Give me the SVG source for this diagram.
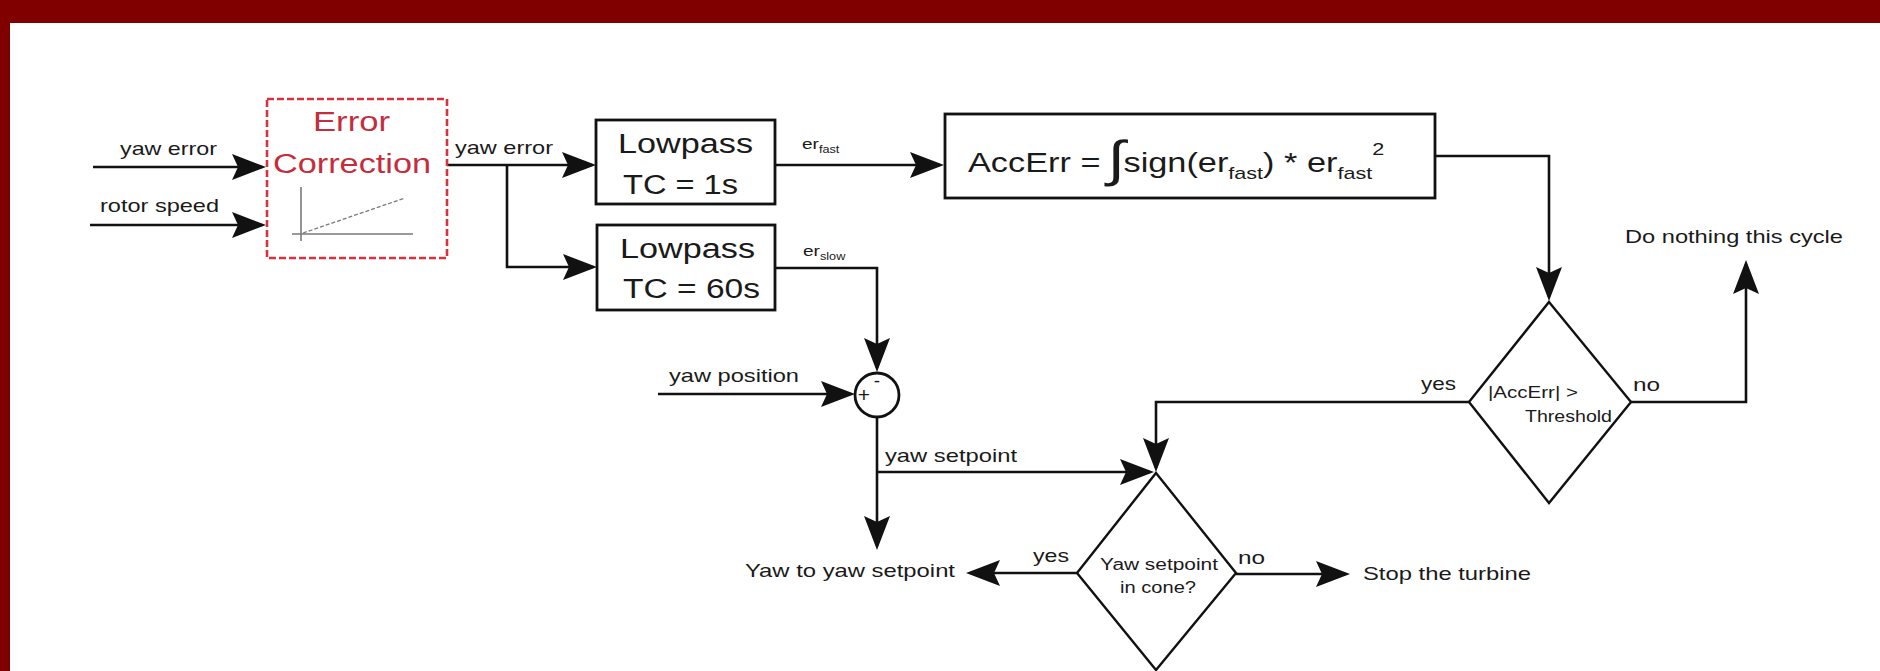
<svg xmlns="http://www.w3.org/2000/svg" width="1880" height="671" viewBox="0 0 1880 671">
<style>
text{font-family:"Liberation Sans",Arial,sans-serif;fill:#1a1a1a}
.lbl{font-size:18.5px}
.big{font-size:27px}
.dt{font-size:16px}
.red{fill:#c42e3c}
.box{fill:#fff;stroke:#111;stroke-width:2.8}
.dia{fill:#fff;stroke:#111;stroke-width:2.4}
.wire{fill:none;stroke:#111;stroke-width:2.6}
.arr{marker-end:url(#ah)}
.axis{stroke:#7a7a7a;stroke-width:1.6;fill:none}
</style>
<defs>
<marker id="ah" markerUnits="userSpaceOnUse" markerWidth="36" markerHeight="26" refX="30" refY="13" orient="auto">
<path d="M0,0 L34,13 L0,26 L6,13 Z" fill="#111"/>
</marker>
</defs>
<rect x="0" y="0" width="1880" height="671" fill="#fff"/>
<rect x="0" y="0" width="1880" height="23" fill="#800000"/>
<rect x="0" y="0" width="10" height="671" fill="#800000"/>

<g id="connectors">
<path class="wire arr" d="M93 167 H262"/>
<path class="wire arr" d="M90 225 H262"/>
<path class="wire arr" d="M447 165 H592"/>
<path class="wire arr" d="M507 165 V267 H593"/>
<path class="wire arr" d="M775 165 H940"/>
<path class="wire arr" d="M775 268 H877 V368"/>
<path class="wire arr" d="M1435 156 H1549 V297"/>
<path class="wire arr" d="M1469 402 H1156 V468"/>
<path class="wire arr" d="M1631 402 H1746 V264"/>
<path class="wire arr" d="M658 394 H851"/>
<path class="wire arr" d="M877 417 V546"/>
<path class="wire arr" d="M877 472 H1150"/>
<path class="wire arr" d="M1077 573 H970"/>
<path class="wire arr" d="M1236 574 H1346"/>
<text class="lbl" x="120" y="155" textLength="97" lengthAdjust="spacingAndGlyphs">yaw error</text>
<text class="lbl" x="100" y="212" textLength="119" lengthAdjust="spacingAndGlyphs">rotor speed</text>
<text class="lbl" x="455" y="154" textLength="98" lengthAdjust="spacingAndGlyphs">yaw error</text>
<text transform="translate(802,149) scale(1.27,1)" font-size="15">er<tspan font-size="10" dy="4">fast</tspan></text>
<text transform="translate(803,256) scale(1.27,1)" font-size="15">er<tspan font-size="10" dy="4">slow</tspan></text>
<text class="lbl" x="669" y="382" textLength="130" lengthAdjust="spacingAndGlyphs">yaw position</text>
<text class="lbl" x="885" y="462" textLength="132" lengthAdjust="spacingAndGlyphs">yaw setpoint</text>
<text class="lbl" x="1421" y="390" textLength="35" lengthAdjust="spacingAndGlyphs">yes</text>
<text class="lbl" x="1633" y="391" textLength="27" lengthAdjust="spacingAndGlyphs">no</text>
<text class="lbl" x="1033" y="562" textLength="36" lengthAdjust="spacingAndGlyphs">yes</text>
<text class="lbl" x="1238" y="564" textLength="27" lengthAdjust="spacingAndGlyphs">no</text>
</g>

<g id="error-correction">
<rect x="267" y="99" width="180" height="159" fill="#fff" stroke="#d9323f" stroke-width="2.6" stroke-dasharray="7 3"/>
<text class="big red" x="313" y="131" textLength="77" lengthAdjust="spacingAndGlyphs">Error</text>
<text class="big red" x="273" y="173" textLength="158" lengthAdjust="spacingAndGlyphs">Correction</text>
<path class="axis" d="M301 187 V241 M292 234 H413"/>
<path d="M303 233 L405 198" stroke="#7a7a7a" stroke-width="1.3" stroke-dasharray="4 2" fill="none"/>
</g>

<g id="lowpass-fast">
<rect class="box" x="596" y="120" width="179" height="84"/>
<text class="big" x="618" y="153" textLength="135" lengthAdjust="spacingAndGlyphs">Lowpass</text>
<text class="big" x="623" y="194" textLength="115" lengthAdjust="spacingAndGlyphs">TC = 1s</text>
</g>

<g id="lowpass-slow">
<rect class="box" x="597" y="225" width="178" height="85"/>
<text class="big" x="620" y="258" textLength="135" lengthAdjust="spacingAndGlyphs">Lowpass</text>
<text class="big" x="623" y="298" textLength="137" lengthAdjust="spacingAndGlyphs">TC = 60s</text>
</g>

<g id="accerr">
<rect class="box" x="945" y="114" width="490" height="84"/>
<text transform="translate(968,172) scale(1.27,1)" font-size="27">AccErr = <tspan font-size="50" dy="4" dx="-2">∫</tspan><tspan dy="-4" dx="-1">sign(er</tspan><tspan font-size="17" dy="7">fast</tspan><tspan dy="-7">) * er</tspan><tspan font-size="17" dy="7">fast</tspan><tspan font-size="17" dy="-24">2</tspan></text>
</g>

<g id="threshold-decision">
<polygon class="dia" points="1549,302 1631,402 1549,503 1469,402"/>
<text class="dt" x="1488" y="398" textLength="90" lengthAdjust="spacingAndGlyphs">|AccErr| &gt;</text>
<text class="dt" x="1525" y="422" textLength="87" lengthAdjust="spacingAndGlyphs">Threshold</text>
</g>

<g id="do-nothing">
<text class="lbl" x="1625" y="243" textLength="218" lengthAdjust="spacingAndGlyphs">Do nothing this cycle</text>
</g>

<g id="sum">
<circle cx="877" cy="395" r="22" fill="#fff" stroke="#111" stroke-width="2.8"/>
<text x="864" y="402" font-size="21" text-anchor="middle">+</text>
<text x="877" y="387" font-size="19" text-anchor="middle">-</text>
</g>

<g id="cone-decision">
<polygon class="dia" points="1156,473 1236,573 1156,670 1077,573"/>
<text class="dt" x="1100" y="570" textLength="118" lengthAdjust="spacingAndGlyphs">Yaw setpoint</text>
<text class="dt" x="1120" y="593" textLength="76" lengthAdjust="spacingAndGlyphs">in cone?</text>
</g>

<g id="yaw-to-setpoint">
<text class="lbl" x="745" y="577" textLength="210" lengthAdjust="spacingAndGlyphs">Yaw to yaw setpoint</text>
</g>

<g id="stop-turbine">
<text class="lbl" x="1363" y="580" textLength="168" lengthAdjust="spacingAndGlyphs">Stop the turbine</text>
</g>
</svg>
